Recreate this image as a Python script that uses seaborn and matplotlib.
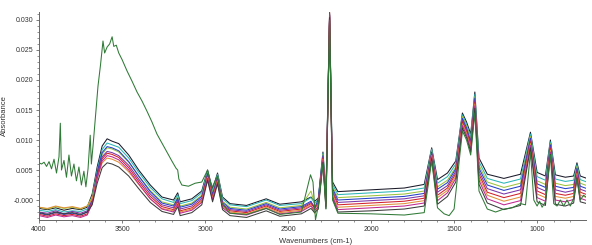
import numpy as np
import pandas as pd
import matplotlib
matplotlib.use("Agg")
import matplotlib.pyplot as plt
import seaborn as sns

# wavenumber grid shared by the main bundle of spectra (cm-1)
wavenumber = [4000, 3950, 3900, 3850, 3800, 3750, 3710, 3680, 3650, 3620,
              3590, 3560, 3520, 3460, 3400, 3330, 3260, 3190, 3165, 3150,
              3080, 3020, 2985, 2955, 2925, 2895, 2850, 2750, 2632, 2550,
              2420, 2362, 2340, 2318, 2290, 2272, 2250, 2232, 2200, 2000,
              1800, 1680, 1635, 1600, 1540, 1490, 1450, 1425, 1400, 1375,
              1350, 1300, 1200, 1100, 1040, 1000, 950, 920, 890, 830,
              780, 760, 740, 700]

# absorbance values in units of 1e-3
black_a = [-1.4, -1.6, -1.3, -1.7, -1.4, -1.6, -1.2, 1.0, 5.5, 9.0,
           10.2, 9.8, 9.4, 7.5, 5.0, 2.5, 0.5, 0.0, 1.2, -0.3,
           0.2, 1.5, 5.0, 1.8, 4.5, 0.5, -0.6, -0.9, 0.2, -0.7,
           -0.3, 0.5, -0.2, 0.3, 8.0, 1.0, 31.2, 3.0, 1.4, 1.7,
           2.0, 2.6, 8.7, 3.4, 4.5, 6.5, 14.5, 13.0, 11.0, 18.0,
           7.0, 4.3, 3.6, 4.3, 11.3, 4.6, 4.0, 10.0, 4.2, 3.8,
           4.0, 6.2, 4.0, 3.6]
teal_a = [-1.7, -1.9, -1.6, -2.0, -1.8, -1.9, -1.5, 0.6, 5.0, 8.4,
          9.5, 9.2, 8.8, 7.0, 4.6, 2.1, 0.2, -0.4, 0.9, -0.6,
          -0.1, 1.2, 4.8, 1.5, 4.3, 0.2, -0.8, -1.1, 0.0, -0.9,
          -0.6, 0.4, -0.5, 0.0, 7.8, 0.6, 31.0, 2.6, 0.9, 1.2,
          1.5, 2.0, 8.5, 2.8, 3.9, 6.0, 14.2, 12.6, 10.5, 17.6,
          6.4, 3.6, 2.8, 3.5, 11.0, 3.9, 3.3, 9.7, 3.5, 3.1,
          3.3, 5.9, 3.4, 3.0]
olive_a = [-1.2, -1.5, -1.1, -1.4, -1.2, -1.5, -1.0, 0.5, 4.6, 7.6,
           8.7, 8.5, 8.0, 6.3, 4.0, 1.6, -0.3, -0.8, 0.5, -1.0,
           -0.5, 0.8, 4.5, 1.1, 4.0, -0.2, -1.2, -1.5, -0.4, -1.3,
           -0.9, 1.5, -0.8, -0.3, 7.6, 0.3, 30.8, 2.2, 0.4, 0.7,
           1.0, 1.5, 8.2, 2.2, 3.3, 5.5, 13.9, 12.3, 10.0, 17.2,
           5.8, 3.0, 2.1, 2.8, 10.6, 3.2, 2.6, 9.4, 2.8, 2.4,
           2.6, 5.6, 2.8, 2.4]
blue_a = [-2.2, -2.5, -2.1, -2.4, -2.2, -2.5, -2.0, 0.0, 4.6, 7.9,
          8.9, 8.7, 8.2, 6.4, 4.0, 1.4, -0.5, -1.0, 0.3, -1.2,
          -0.7, 0.6, 4.4, 0.9, 3.8, -0.4, -1.4, -1.7, -0.6, -1.5,
          -1.1, -0.2, -1.5, 0.2, 7.4, 0.0, 30.8, 1.9, 0.0, 0.3,
          0.6, 1.1, 8.0, 1.8, 2.9, 5.2, 13.6, 12.0, 9.7, 17.0,
          5.3, 2.5, 1.6, 2.3, 10.3, 2.7, 2.1, 9.2, 2.3, 1.9,
          2.1, 5.3, 2.3, 1.9]
purple_a = [-2.0, -2.2, -1.8, -2.3, -1.9, -2.2, -1.8, 0.0, 4.2, 7.2,
            8.1, 7.9, 7.4, 5.8, 3.5, 1.0, -0.8, -1.3, 0.0, -1.5,
            -1.0, 0.3, 4.2, 0.6, 3.6, -0.7, -1.6, -1.9, -0.8, -1.7,
            -1.3, -0.4, -1.1, -0.5, 7.2, -0.3, 30.6, 1.5, -0.4, -0.1,
            0.2, 0.7, 7.8, 1.3, 2.4, 4.8, 13.3, 11.7, 9.3, 16.6,
            4.8, 1.9, 1.0, 1.7, 10.0, 2.1, 1.5, 8.9, 1.7, 1.3,
            1.6, 5.0, 1.8, 1.4]
red_a = [-2.4, -2.7, -2.3, -2.6, -2.4, -2.7, -2.3, -0.4, 3.9, 6.9,
         7.8, 7.6, 7.1, 5.4, 3.1, 0.6, -1.1, -1.6, -0.3, -1.8,
         -1.3, 0.0, 4.0, 0.4, 3.4, -0.9, -1.8, -2.1, -1.0, -1.9,
         -1.5, -0.6, -1.3, -0.7, 7.0, -0.6, 31.3, 1.2, -0.8, -0.5,
         -0.2, 0.3, 7.6, 0.8, 2.0, 4.4, 13.0, 11.4, 9.0, 16.3,
         4.3, 1.3, 0.4, 1.1, 9.7, 1.5, 0.9, 8.6, 1.1, 0.8,
         1.1, 4.7, 1.3, 0.9]
orange_a = [-1.2, -1.4, -1.0, -1.3, -1.1, -1.4, -1.0, 0.2, 3.6, 6.2,
            7.0, 6.8, 6.3, 4.7, 2.6, 0.2, -1.4, -1.8, -0.6, -2.0,
            -1.5, -0.2, 3.8, 0.2, 3.2, -1.1, -2.0, -2.3, -1.2, -2.1,
            -1.7, -0.8, -2.2, -0.9, 6.8, -0.9, 30.5, 0.9, -1.2, -0.9,
            -0.6, -0.1, 7.4, 0.4, 1.6, 4.0, 12.7, 11.1, 8.7, 16.0,
            3.8, 0.8, -0.2, 0.5, 9.4, 1.0, 0.4, 8.3, 0.6, 0.3,
            0.6, 4.4, 0.8, 0.4]
magenta_a = [-2.6, -2.9, -2.5, -2.8, -2.6, -2.9, -2.5, -0.6, 3.6, 6.5,
             7.4, 7.2, 6.7, 5.0, 2.7, 0.2, -1.5, -2.0, -0.7, -2.2,
             -1.7, -0.4, 3.6, 0.0, 3.0, -1.3, -2.2, -2.5, -1.4, -2.3,
             -1.9, -1.0, -1.7, -1.1, 6.6, -1.1, 30.9, 0.6, -1.6, -1.3,
             -1.0, -0.5, 7.2, -0.1, 1.2, 3.6, 12.4, 10.8, 8.4, 15.7,
             3.3, 0.2, -0.8, -0.1, 9.1, 0.4, -0.2, 8.0, 0.0, -0.3,
             0.1, 4.1, 0.3, -0.1]
gray_a = [-2.1, -2.4, -2.0, -2.3, -2.1, -2.4, -2.0, -0.8, 2.8, 5.4,
          6.2, 6.0, 5.5, 4.0, 1.9, -0.4, -1.9, -2.4, -1.1, -2.6,
          -2.1, -0.8, 3.3, -0.3, 2.7, -1.6, -2.6, -2.9, -1.8, -2.7,
          -2.3, -1.4, -2.1, -1.5, 6.3, -1.4, 30.4, 0.2, -2.0, -1.8,
          -1.5, -1.0, 6.9, -0.7, 0.6, 3.0, 12.0, 10.4, 8.0, 15.3,
          2.6, -0.5, -1.6, -0.9, 8.7, -0.3, -0.9, 7.6, -0.7, -1.0,
          -0.5, 3.7, -0.3, -0.6]

# the odd sample, on its own grid
green_wn = [4000, 3985, 3970, 3955, 3940, 3925, 3910, 3895, 3880, 3872,
            3865, 3850, 3835, 3820, 3805, 3790, 3775, 3760, 3745, 3730,
            3718, 3705, 3692, 3685, 3675, 3660, 3645, 3630, 3615, 3605,
            3590, 3575, 3560, 3550, 3535, 3520, 3500, 3470, 3440, 3410,
            3380, 3350, 3320, 3290, 3260, 3230, 3200, 3175, 3165, 3158,
            3140, 3100, 3060, 3020, 2985, 2960, 2925, 2900, 2850, 2750,
            2632, 2550, 2420, 2365, 2350, 2335, 2318, 2290, 2272, 2250,
            2232, 2200, 2000, 1800, 1680, 1635, 1600, 1560, 1530, 1500,
            1450, 1425, 1400, 1375, 1350, 1300, 1250, 1200, 1150, 1100,
            1070, 1040, 1020, 1000, 985, 970, 950, 920, 900, 880,
            860, 840, 820, 800, 780, 760, 740, 720, 700]
green_a = [6.2, 6.0, 6.3, 5.6, 6.4, 5.2, 6.8, 4.5, 7.2, 12.8,
           5.0, 6.6, 3.8, 7.5, 4.0, 6.0, 3.2, 5.5, 2.5, 4.8,
           2.2, 5.2, 10.8, 6.0, 9.0, 14.0, 19.0, 22.5, 26.5, 24.5,
           25.5, 26.0, 27.2, 25.6, 25.8, 24.5, 23.4, 21.5, 19.8, 18.0,
           16.5, 14.8, 13.0, 11.0, 9.5, 8.0, 6.5, 5.3, 5.0, 3.5,
           2.5, 2.3, 2.8, 3.0, 5.0, 2.0, 4.0, -0.5, -2.2, -2.4,
           -1.4, -2.4, -2.0, 4.2, 3.0, -3.3, -1.0, 6.0, -1.5, 30.0,
           0.0, -2.2, -2.3, -2.5, -2.1, 6.5, -1.3, -2.3, -2.6, -1.5,
           11.5, 10.0, 7.5, 14.5, 1.5, -1.5, -2.0, -1.5, -1.3, -0.6,
           -0.8, 8.0, 0.0, -1.0, -0.2, -1.2, -0.3, 7.5, -0.6, -1.0,
           0.0, -1.0, 0.0, -1.0, 0.3, 3.5, 0.0, 0.8, 0.4]

bundle = {
    "black": black_a, "teal": teal_a, "olive": olive_a, "blue": blue_a,
    "purple": purple_a, "red": red_a, "orange": orange_a,
    "magenta": magenta_a, "gray": gray_a,
}
colors = {
    "black": "#1a1a2a", "teal": "#2bb5b5", "olive": "#9ec43a",
    "blue": "#2440c8", "purple": "#7a34a8", "red": "#d0202c",
    "orange": "#e09038", "magenta": "#c02890", "gray": "#3c3c3c",
    "green": "#2f7a36",
}

xtick_vals = [4000, 3500, 3000, 2500, 2000, 1500, 1000]
ytick_vals = [0.0, 0.005, 0.010, 0.015, 0.020, 0.025, 0.030]
ytick_labels = ["-0.000", "0.005", "0.010", "0.015", "0.020", "0.025", "0.030"]

frames = []
for name, vals in bundle.items():
    frames.append(pd.DataFrame({"wn": wavenumber, "abs": np.array(vals) / 1000,
                                "sample": name}))
frames.append(pd.DataFrame({"wn": green_wn, "abs": np.array(green_a) / 1000,
                            "sample": "green"}))
df = pd.concat(frames, ignore_index=True)

sns.set_style("ticks")
plt.rcParams['font.family'] = ['Liberation Sans', 'DejaVu Sans']

fig = plt.figure(figsize=(5.92, 2.45), dpi=100)
ax = fig.add_axes([0.066, 0.102, 0.924, 0.849])

sns.lineplot(data=df, x="wn", y="abs", hue="sample", palette=colors,
             estimator=None, sort=False, linewidth=0.75, legend=False, ax=ax)

ax.set_xlim(4000, 705)
ax.set_ylim(-0.00333, 0.03133)
ax.set_xticks(xtick_vals)
ax.set_xticklabels([str(v) for v in xtick_vals])
ax.set_yticks(ytick_vals)
ax.set_yticklabels(ytick_labels)
ax.set_xticks(np.arange(800, 4001, 100), minor=True)
ax.set_yticks(np.arange(-0.003, 0.0311, 0.001), minor=True)
ax.tick_params(axis="both", which="major", labelsize=5, length=2.5,
               width=0.6, color="#666666", pad=1.5, labelcolor="#333333")
ax.tick_params(axis="both", which="minor", length=1.3, width=0.5,
               color="#666666")
for side in ["top", "right"]:
    ax.spines[side].set_visible(False)
for side in ["left", "bottom"]:
    ax.spines[side].set_color("#666666")
    ax.spines[side].set_linewidth(0.7)

ax.set_xlabel("Wavenumbers (cm-1)", fontsize=5.5, color="#333333")
ax.set_ylabel("Absorbance", fontsize=5.5, color="#333333")
ax.xaxis.set_label_coords(0.505, -0.087)
ax.yaxis.set_label_coords(-0.057, 0.5)

fig.savefig("out.png", dpi=100)
